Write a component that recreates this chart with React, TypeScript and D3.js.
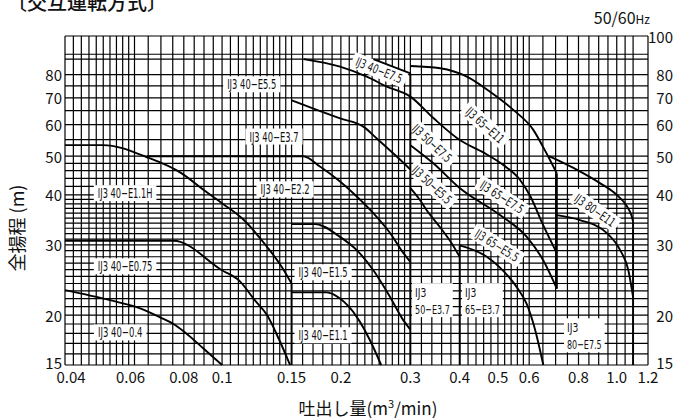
import React from 'react';
import * as d3 from 'd3';

// ---- axes / ticks ----
const xTickValues = [0.04, 0.06, 0.08, 0.1, 0.15, 0.2, 0.3, 0.4, 0.5, 0.6, 0.8, 1.0, 1.2];
const xTickLabels = ['0.04', '0.06', '0.08', '0.1', '0.15', '0.2', '0.3', '0.4', '0.5', '0.6', '0.8', '1.0', '1.2'];
const yLeftTicks = [15, 20, 30, 40, 50, 60, 70, 80];
const yRightTicks = [15, 20, 30, 40, 50, 60, 70, 80, 100];

// grid spacing (start, end, step)
const xGridSteps = [[0.04, 0.06, 0.002], [0.06, 0.1, 0.005], [0.1, 0.15, 0.005], [0.15, 0.3, 0.01], [0.3, 0.6, 0.02], [0.6, 1.1, 0.05]];
const xGridExtra = [1.1, 1.2];
const yGridSteps = [[15, 40, 1], [40, 50, 2], [50, 80, 5]];
const yGridExtra = [80, 87.5, 90, 100];

// ---- pump curves [Q (m3/min), H (m)] ----
const c40_04 = [[0.04, 23.1], [0.052, 21.8], [0.062, 20.8], [0.0697, 19.75], [0.0753, 19.0], [0.0806, 18.1], [0.0897, 16.5], [0.1, 15]];
const c40_E075 = [[0.04, 30.7], [0.0753, 30.7], [0.1, 25.9], [0.111, 24.3], [0.121, 21.8], [0.13, 20.0], [0.139, 17.5], [0.1487, 15]];
const c40_E11H = [[0.04, 53.3], [0.05, 53.3], [0.0645, 49.7], [0.079, 45.3], [0.0897, 41.2], [0.1, 38.1], [0.1132, 34.7], [0.1298, 29.7], [0.1417, 26.4], [0.15, 24.0]];
const c40_E11 = [[0.15, 22.8], [0.1842, 22.8], [0.199, 22.0], [0.2194, 19.8], [0.237, 17.3], [0.253, 15]];
const c40_E15 = [[0.15, 33.8], [0.172, 33.8], [0.199, 31.4], [0.2194, 29.1], [0.2417, 25.9], [0.2665, 22.2], [0.288, 19.4], [0.3, 18.4]];
const c40_E22 = [[0.0645, 50], [0.1607, 50], [0.177, 47.1], [0.199, 43.2], [0.215, 40.4], [0.2417, 36.0], [0.2665, 32.1], [0.288, 28.6], [0.3, 27.2]];
const c40_E37 = [[0.15, 69], [0.1738, 65.3], [0.199, 62.2], [0.228, 59.3], [0.2466, 55.4], [0.277, 49.9], [0.3, 46.3]];
const c50_E37 = [[0.3, 41.6], [0.3175, 38.8], [0.33, 36.6], [0.3567, 33.2], [0.378, 30.7], [0.4, 28.0]];
const c40_E55 = [[0.161, 87.5], [0.199, 83.8], [0.2326, 79.1], [0.2614, 74.7], [0.3, 70.5], [0.343, 62.3], [0.4, 54.9], [0.459, 51.1], [0.516, 47.5], [0.569, 43.6], [0.603, 39.8], [0.651, 33.6], [0.705, 28.6]];
const c40_E75 = [[0.2417, 87.5], [0.3, 80.6]];
const c65_E11 = [[0.3, 84.1], [0.357, 83.0], [0.417, 79.1], [0.4775, 72.5], [0.547, 65.3], [0.6146, 58.2], [0.6516, 52.6], [0.674, 49.4], [0.705, 45.3]];
const c80_E11 = [[0.674, 50.0], [0.8, 46.0], [0.9, 43.0], [1.0, 40.0], [1.06, 37.5], [1.09, 35.5], [1.1, 34.3]];
const c80_E75 = [[0.705, 35.6], [0.807, 34.6], [0.944, 32.1], [1.02, 29.1], [1.07, 25.9], [1.1, 22.2]];
const c50_E55 = [[0.3, 53.3], [0.343, 48.0], [0.4, 41.6], [0.506, 35.6], [0.5916, 31.4], [0.6516, 27.4], [0.705, 23.3]];
const c65_E37 = [[0.4, 29.9], [0.4685, 28.0], [0.506, 26.3], [0.558, 23.5], [0.5916, 21.3], [0.62, 18.5], [0.6516, 15]];

const curves = [c40_04, c40_E075, c40_E11H, c40_E11, c40_E15, c40_E22, c40_E37, c50_E37, c40_E55, c40_E75, c65_E11, c80_E11, c80_E75, c50_E55, c65_E37];

// vertical boundary lines [Q, Htop, Hbottom]
const boundaries = [[0.15, 24.0, 15], [0.3, 80.6, 15], [0.4, 29.9, 15], [0.705, 45.3, 23.3], [1.1, 34.3, 15]];

// ---- labels ----
const labelTexts = [
  ['IJ3 40−0.4'], ['IJ3 40−E0.75'], ['IJ3 40−E1.1H'], ['IJ3 40−E2.2'], ['IJ3 40−E3.7'], ['IJ3 40−E5.5'],
  ['IJ3 40−E1.5'], ['IJ3 40−E1.1'], ['IJ3', '50−E3.7'], ['IJ3', '65−E3.7'], ['IJ3', '80−E7.5'],
  ['IJ3 40−E7.5'], ['IJ3 65−E11'], ['IJ3 50−E7.5'], ['IJ3 50−E5.5'], ['IJ3 65−E7.5'], ['IJ3 65−E5.5'], ['IJ3 80−E11'],
];
const labelQ = [0.0552, 0.0568, 0.0568, 0.1444, 0.1354, 0.1189, 0.1803, 0.1803, 0.3083, 0.4128, 0.748, 0.25, 0.4638, 0.3405, 0.3405, 0.512, 0.4975, 0.881];
const labelH = [18.1, 26.5, 40.4, 41.3, 56.0, 75.7, 25.6, 17.8, 21.8, 21.8, 17.8, 82.1, 59.8, 53.9, 42.4, 39.5, 29.9, 36.6];
const labelAngle = [0, 0, 0, 0, 0, 0, 0, 0, 0, 0, 0, 22, 42, 43, 43, 33, 32, 35];

const charW: Record<string, number> = { I: 2.6, J: 3.4, ' ': 3.2, '−': 6.5, E: 4.6, '.': 2.4, H: 5.4 };
const textLen = (s: string) => s.split('').reduce((a, c) => a + (charW[c] ?? 5.3), 0);

const FONT = '"Noto Sans CJK JP", "Noto Sans", sans-serif';
const LABEL_FONT = '"DejaVu Sans", "Noto Sans", sans-serif';

function gridValues(steps: number[][], extra: number[]) {
  const out: number[] = [];
  steps.forEach(([a, b, s]) => {
    for (let i = 0; a + i * s < b - 1e-9; i++) out.push(+(a + i * s).toFixed(4));
  });
  return out.concat(extra);
}

export default function App() {
  const x = d3.scaleLog().domain([0.04, 1.2]).range([65, 648]);
  const y = d3.scaleLog().domain([15, 100]).range([365, 36]);
  const line = d3.line<number[]>().x(d => x(d[0])).y(d => y(d[1])).curve(d3.curveMonotoneX);

  const xg = gridValues(xGridSteps, xGridExtra);
  const yg = gridValues(yGridSteps, yGridExtra);
  const [x0, x1] = x.range();
  const [y0, y1] = y.range();

  const labelNodes = labelTexts.map((lines, i) => {
    const px = x(labelQ[i]);
    const py = y(labelH[i]);
    const ang = labelAngle[i];
    if (lines.length === 1) {
      const L = textLen(lines[0]);
      const fs = ang ? 12.5 : 13.5;
      return {
        box: (
          <g key={'b' + i} transform={`translate(${px},${py}) rotate(${ang})`}>
            <rect x={-L / 2 - 4} y={-8} width={L + 8} height={16} fill="#fff" />
          </g>
        ),
        text: (
          <g key={'t' + i} transform={`translate(${px},${py}) rotate(${ang})`}>
            <text x={0} y={0} textAnchor="middle" dominantBaseline="central" fontSize={fs}
              textLength={L} lengthAdjust="spacingAndGlyphs" fontFamily={LABEL_FONT} fill="#111">{lines[0]}</text>
          </g>
        ),
      };
    }
    const L2 = Math.max(...lines.map(textLen));
    return {
      box: <rect key={'b' + i} x={px - 3} y={py - 17} width={L2 + 6} height={34} fill="#fff" />,
      text: (
        <g key={'t' + i}>
          {lines.map((s, j) => (
            <text key={j} x={px} y={py - 8 + j * 17} dominantBaseline="central" fontSize={13}
              textLength={textLen(s)} lengthAdjust="spacingAndGlyphs" fontFamily={LABEL_FONT} fill="#111">{s}</text>
          ))}
        </g>
      ),
    };
  });

  const xLabelShift = (v: number) => (v === 0.04 ? 6 : v === 0.06 ? -4 : 0);

  return (
    <svg width={674} height={419} viewBox="0 0 674 419"
      style={{ position: 'absolute', left: 0, top: 0, background: '#fff' }}
      fontFamily={FONT}>
      <rect x={0} y={0} width={674} height={419} fill="#fff" />
      {/* title */}
      <text x={7} y={10} fontSize={20} fontWeight={500} fill="#111">〔交互運転方式〕</text>
      <text x={650} y={24} textAnchor="end" fill="#111">
        <tspan fontSize={16}>50/60</tspan><tspan fontSize={12}>Hz</tspan>
      </text>

      {/* grid */}
      <g stroke="#000" strokeWidth={1.2}>
        {xg.map((v, i) => (
          <line key={'vx' + i} x1={x(v)} x2={x(v)} y1={y1} y2={y0} />
        ))}
        {yg.map((v, i) => (
          <line key={'hy' + i} x1={x0} x2={x1} y1={y(v)} y2={y(v)} />
        ))}
      </g>

      {/* label backgrounds */}
      {labelNodes.map(n => n.box)}

      {/* curves */}
      <g fill="none" stroke="#000" strokeWidth={1.9} strokeLinejoin="round">
        {curves.map((c, i) => (
          <path key={'c' + i} d={line(c) || ''} />
        ))}
        {boundaries.map((b, i) => (
          <line key={'bd' + i} x1={x(b[0])} x2={x(b[0])} y1={y(b[1])} y2={y(b[2])} />
        ))}
      </g>

      {/* label texts */}
      {labelNodes.map(n => n.text)}

      {/* y ticks */}
      {yLeftTicks.map(v => (
        <text key={'yl' + v} x={62} y={y(v) - (v === 15 ? 3 : 0)} textAnchor="end" dominantBaseline="central" fontSize={15} fill="#111">{v}</text>
      ))}
      {yRightTicks.map(v => (
        <text key={'yr' + v} x={673} y={y(v) - (v === 15 ? 3 : 0)} textAnchor="end" dominantBaseline="central" fontSize={15} fill="#111">{v}</text>
      ))}
      {/* x ticks */}
      {xTickValues.map((v, i) => (
        <text key={'xt' + i} x={x(v) + xLabelShift(v)} y={383} textAnchor="middle" fontSize={15} fill="#111">{xTickLabels[i]}</text>
      ))}

      {/* axis titles */}
      <text x={368} y={415} textAnchor="middle" fontSize={17} fill="#111">
        吐出し量(m<tspan fontSize={11} dy={-7}>3</tspan><tspan dy={7}>/min)</tspan>
      </text>
      <text transform="translate(24,228) rotate(-90)" textAnchor="middle" fontSize={18} fill="#111">全揚程 (m)</text>
    </svg>
  );
}
